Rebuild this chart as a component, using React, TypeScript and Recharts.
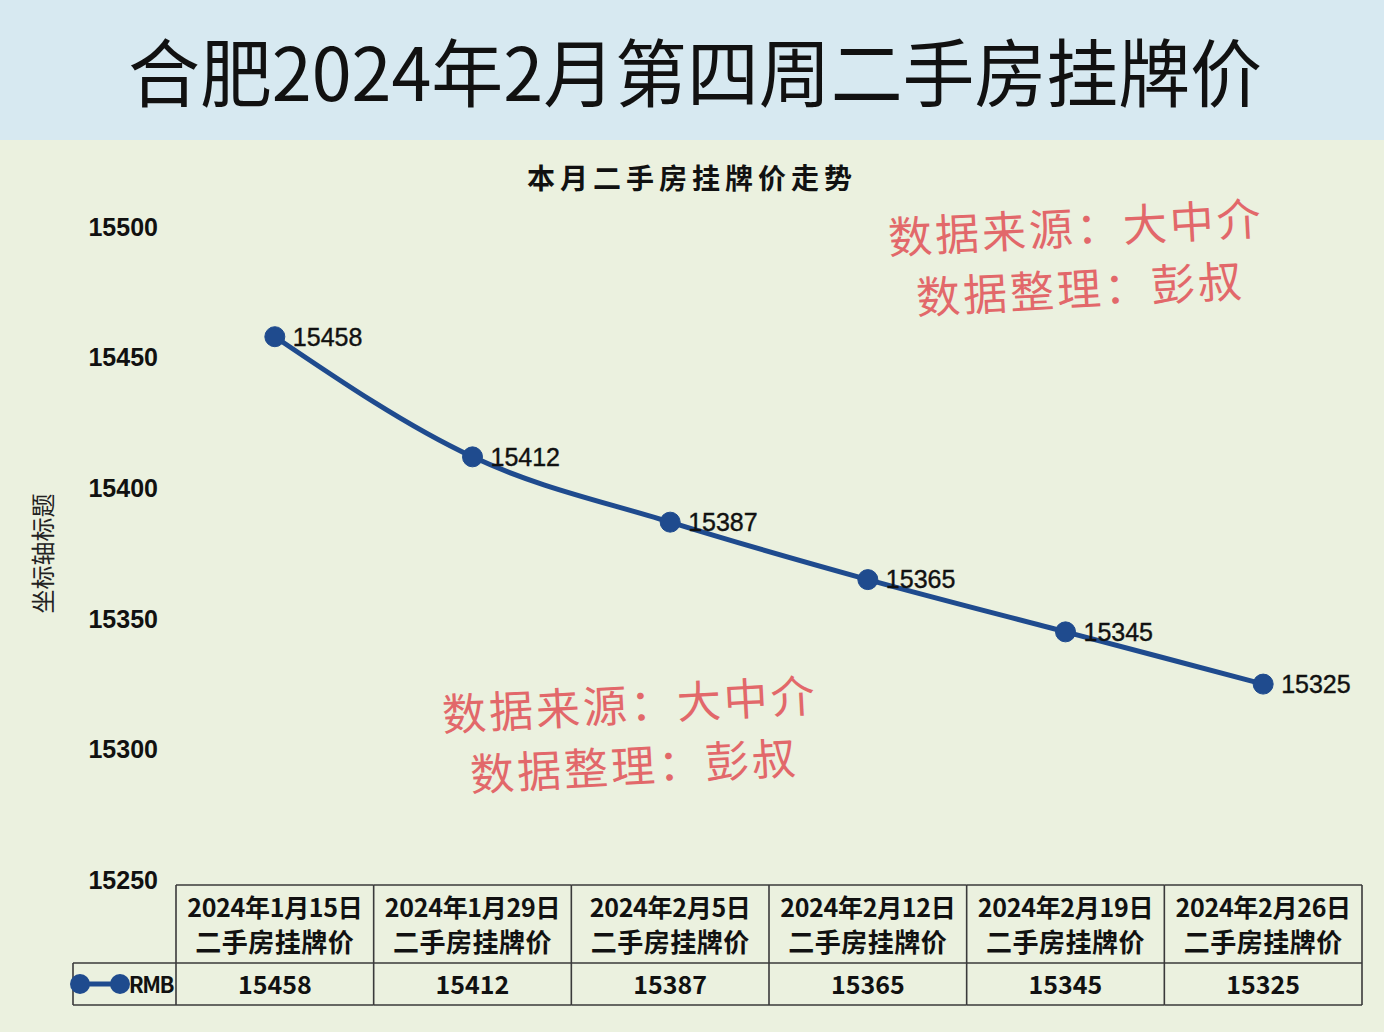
import React from 'react';
import { LineChart, Line, XAxis, YAxis, LabelList } from 'recharts';

const dateLabels = ['2024年1月15日', '2024年1月29日', '2024年2月5日', '2024年2月12日', '2024年2月19日', '2024年2月26日'];
const rowLabel = '二手房挂牌价';
const prices = [15458, 15412, 15387, 15365, 15345, 15325];
const yTicks = [15250, 15300, 15350, 15400, 15450, 15500];
const seriesName = 'RMB';
const mainTitle = '合肥2024年2月第四周二手房挂牌价';
const chartTitle = '本月二手房挂牌价走势';
const yAxisTitle = '坐标轴标题';
const wmLine1 = '数据来源：大中介';
const wmLine2 = '数据整理：彭叔';

const data = dateLabels.map((d, i) => ({ date: d, price: prices[i] }));

const BLUE = '#1f4b8e';
const BORDER = '#3a3a3a';
const CJK = '"Noto Sans CJK SC", "Noto Sans", sans-serif';

const TableTick = (props: any) => {
  const { x, y, payload, width, visibleTicksCount, index } = props;
  const count = visibleTicksCount || dateLabels.length;
  const cw = width / count;
  const left = x - cw / 2;
  const right = x + cw / 2;
  const top = y + 5;
  const h1 = 78;
  const h2 = 42;
  const idx = payload.index ?? index;
  const price = prices[idx];
  const isFirst = idx === 0;
  const isLast = idx === count - 1;
  const legLeft = left - 103;
  return (
    <g>
      <line x1={left} x2={right} y1={top} y2={top} stroke={BORDER} strokeWidth={1.6} />
      <line x1={left} x2={right} y1={top + h1} y2={top + h1} stroke={BORDER} strokeWidth={1.6} />
      <line x1={left} x2={right} y1={top + h1 + h2} y2={top + h1 + h2} stroke={BORDER} strokeWidth={1.6} />
      <line x1={left} x2={left} y1={top} y2={top + h1 + h2} stroke={BORDER} strokeWidth={1.6} />
      {isLast && <line x1={right} x2={right} y1={top} y2={top + h1 + h2} stroke={BORDER} strokeWidth={1.6} />}
      <text x={x} y={top + 32} textAnchor="middle" fontFamily={CJK} fontWeight={700} fontSize={25} fill="#111" letterSpacing={-0.3}>
        {payload.value}
      </text>
      <text x={x} y={top + 67} textAnchor="middle" fontFamily={CJK} fontWeight={700} fontSize={26} fill="#111" letterSpacing={0.5}>
        {rowLabel}
      </text>
      <text x={x} y={top + h1 + 31} textAnchor="middle" fontFamily={CJK} fontWeight={700} fontSize={25} fill="#111">
        {price}
      </text>
      {isFirst && (
        <g>
          <line x1={legLeft} x2={left} y1={top + h1} y2={top + h1} stroke={BORDER} strokeWidth={1.6} />
          <line x1={legLeft} x2={left} y1={top + h1 + h2} y2={top + h1 + h2} stroke={BORDER} strokeWidth={1.6} />
          <line x1={legLeft} x2={legLeft} y1={top + h1} y2={top + h1 + h2} stroke={BORDER} strokeWidth={1.6} />
          <line x1={legLeft + 7} x2={legLeft + 47} y1={top + h1 + 21} y2={top + h1 + 21} stroke={BLUE} strokeWidth={5} />
          <circle cx={legLeft + 7} cy={top + h1 + 21} r={10} fill={BLUE} />
          <circle cx={legLeft + 47} cy={top + h1 + 21} r={10} fill={BLUE} />
          <text x={left - 3} y={top + h1 + 30} textAnchor="end" fontFamily={CJK} fontWeight={700} fontSize={22} fill="#111" letterSpacing={-1.5}>
            {seriesName}
          </text>
        </g>
      )}
    </g>
  );
};

const Watermark = ({ left, top }: { left: number; top: number }) => {
  const style: React.CSSProperties = {
    position: 'absolute',
    fontFamily: CJK,
    fontSize: 44,
    lineHeight: '44px',
    letterSpacing: 3,
    color: '#e2686a',
    whiteSpace: 'nowrap',
    transform: 'rotate(-3deg)',
    transformOrigin: 'left center',
  };
  return (
    <>
      <div style={{ ...style, left, top: top - 22 }}>{wmLine1}</div>
      <div style={{ ...style, left: left + 28, top: top + 60 - 22 }}>{wmLine2}</div>
    </>
  );
};

export default function App() {
  return (
    <div style={{ position: 'absolute', left: 0, top: 0, width: 1384, height: 1032, background: '#ebf1df', overflow: 'hidden' }}>
      <div style={{ position: 'absolute', left: 0, top: 0, width: 1384, height: 140, background: '#d7e9f1' }}>
        <svg width={1384} height={140}>
          <text x={695} y={101} textAnchor="middle" fontFamily={CJK} fontSize={74} fontWeight={400} fill="#111" textLength={1134} lengthAdjust="spacingAndGlyphs">
            {mainTitle}
          </text>
        </svg>
      </div>
      <div
        style={{
          position: 'absolute',
          left: 0,
          width: 1384,
          top: 158,
          textAlign: 'center',
          fontFamily: CJK,
          fontWeight: 700,
          fontSize: 28,
          lineHeight: '38px',
          letterSpacing: 5,
          color: '#111',
        }}
      >
        {chartTitle}
      </div>
      <div style={{ position: 'absolute', left: 0, top: 140 }}>
        <LineChart width={1384} height={892} data={data} margin={{ top: 87, right: 22, bottom: 27, left: 0 }}>
          <XAxis
            dataKey="date"
            type="category"
            scale="band"
            axisLine={false}
            tickLine={false}
            tickSize={0}
            tickMargin={0}
            height={125}
            interval={0}
            tick={<TableTick />}
          />
          <YAxis
            type="number"
            domain={[15250, 15500]}
            ticks={yTicks}
            width={176}
            axisLine={false}
            tickLine={false}
            tickSize={0}
            tickMargin={18}
            tick={{ fontFamily: 'Liberation Sans, Arial, sans-serif', fontWeight: 700, fontSize: 25, fill: '#111' }}
            label={{
              value: yAxisTitle,
              angle: -90,
              position: 'insideLeft',
              offset: 43,
              style: { textAnchor: 'middle', fontFamily: CJK, fontSize: 24, fill: '#222' },
            }}
          />
          <Line
            type="monotone"
            dataKey="price"
            stroke={BLUE}
            strokeWidth={5}
            dot={{ r: 10, fill: BLUE, stroke: BLUE, strokeWidth: 1 }}
            activeDot={false}
            isAnimationActive={false}
          >
            <LabelList
              dataKey="price"
              position="right"
              offset={18}
              style={{ fontFamily: 'Liberation Sans, Arial, sans-serif', fontSize: 25, fill: '#111', stroke: '#111', strokeWidth: 0.4 }}
            />
          </Line>
        </LineChart>
      </div>
      <Watermark left={888} top={235} />
      <Watermark left={442} top={712} />
    </div>
  );
}
